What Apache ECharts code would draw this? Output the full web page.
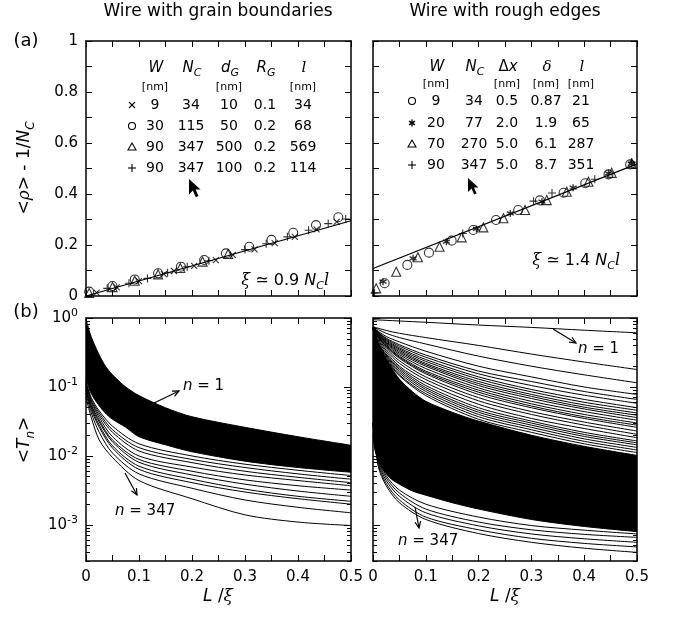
<!DOCTYPE html>
<html lang="en">
<head>
<meta charset="UTF-8">
<title>Wire transmission</title>
<style>html,body{margin:0;padding:0;background:#fff;}</style>
</head>
<body>
<div id="chart" style="width:681px;height:618px;"></div>
<script src="https://cdn.jsdelivr.net/npm/echarts@6/dist/echarts.min.js"></script>
<script>
// ---------- data ----------
// (a) left: wire with grain boundaries, points [L/xi, <rho> - 1/Nc]
var gbCross = [[0.02,0.013],[0.058,0.034],[0.1,0.058],[0.147,0.086],[0.166,0.098],[0.204,0.118],[0.245,0.141],[0.277,0.161],[0.318,0.183],[0.356,0.207],[0.394,0.232],[0.435,0.261],[0.473,0.291]];
var gbCircle = [[0.006,0.017],[0.05,0.039],[0.092,0.065],[0.136,0.089],[0.179,0.115],[0.223,0.141],[0.264,0.167],[0.308,0.193],[0.35,0.22],[0.391,0.248],[0.434,0.278],[0.476,0.309]];
var gbTri = [[0.006,0.012],[0.05,0.035],[0.092,0.06],[0.136,0.085],[0.178,0.11],[0.22,0.135],[0.268,0.165]];
var gbPlus = [[0.04,0.03],[0.081,0.05],[0.116,0.069],[0.154,0.091],[0.191,0.115],[0.232,0.138],[0.3,0.182],[0.34,0.205],[0.38,0.232],[0.42,0.258],[0.457,0.284],[0.49,0.302]];
var gbFit = [[0,0],[0.5,0.295]];

// (a) right: wire with rough edges
var reCircle = [[0.022,0.05],[0.065,0.122],[0.106,0.17],[0.149,0.217],[0.19,0.259],[0.233,0.298],[0.275,0.337],[0.316,0.375],[0.361,0.405],[0.402,0.442],[0.446,0.477],[0.487,0.516]];
var reTri = [[0.006,0.03],[0.044,0.095],[0.085,0.152],[0.126,0.193],[0.168,0.23],[0.209,0.269],[0.247,0.305],[0.288,0.337],[0.329,0.376],[0.367,0.409],[0.408,0.448],[0.452,0.483],[0.49,0.52]];
var reStar = [[0.019,0.056],[0.076,0.148],[0.139,0.213],[0.196,0.263],[0.26,0.324],[0.32,0.37],[0.379,0.425],[0.446,0.481],[0.49,0.518]];
var rePlus = [[0.003,0.012],[0.17,0.245],[0.304,0.372],[0.339,0.404],[0.42,0.458],[0.49,0.525]];
var reFit = [[0,0.108],[0.5,0.518]];

// table contents
var gbRows = [['9','34','10','0.1','34'],['30','115','50','0.2','68'],['90','347','500','0.2','569'],['90','347','100','0.2','114']];
var reRows = [['9','34','0.5','0.87','21'],['20','77','2.0','1.9','65'],['70','270','5.0','6.1','287'],['90','347','5.0','8.7','351']];

// (b) <T_n> versus L/xi
var bandL = [0, 0.003, 0.006, 0.01, 0.02, 0.035, 0.05, 0.075, 0.1, 0.15, 0.2, 0.3, 0.4, 0.5];
var curveL = [0, 0.01, 0.025, 0.05, 0.1, 0.2, 0.3, 0.4, 0.5];

// grain boundaries: dense band (n = 1 at its top) and the separate lowest channels
var gbBandTop = [0.95, 0.80, 0.66, 0.53, 0.35, 0.21, 0.15, 0.10, 0.075, 0.05, 0.037, 0.026, 0.019, 0.0143];
var gbBandBottom = [0.13, 0.11, 0.095, 0.08, 0.06, 0.043, 0.034, 0.026, 0.019, 0.0145, 0.0115, 0.0084, 0.0068, 0.0058];
var gbLow = [
  [0.12, 0.07, 0.045, 0.027, 0.0150, 0.0100, 0.0076, 0.0062, 0.0052],
  [0.115, 0.066, 0.042, 0.024, 0.0132, 0.0089, 0.0068, 0.0055, 0.0046],
  [0.11, 0.063, 0.039, 0.022, 0.0118, 0.0080, 0.0060, 0.0049, 0.0041],
  [0.105, 0.06, 0.036, 0.019, 0.0100, 0.0069, 0.0053, 0.0044, 0.0037],
  [0.10, 0.056, 0.033, 0.017, 0.0089, 0.0060, 0.0045, 0.0037, 0.0032],
  [0.095, 0.053, 0.031, 0.016, 0.0081, 0.0053, 0.0039, 0.0031, 0.0026],
  [0.09, 0.05, 0.028, 0.014, 0.0071, 0.0046, 0.0033, 0.0026, 0.0022],
  [0.088, 0.047, 0.026, 0.013, 0.0064, 0.0041, 0.0030, 0.0024, 0.0020],
  [0.08, 0.042, 0.022, 0.011, 0.0055, 0.0034, 0.0023, 0.0018, 0.0015],
  [0.07, 0.036, 0.017, 0.0095, 0.0044, 0.0024, 0.0014, 0.0011, 0.00098]
];

// rough edges: separate upper channels (first is n = 1), dense band, lowest channels (last is n = 347)
var reUpper = [
  [0.945, 0.937, 0.925, 0.905, 0.867, 0.79, 0.73, 0.665, 0.61],
  [0.75, 0.71, 0.66, 0.6, 0.52, 0.40, 0.30, 0.23, 0.179],
  [0.75, 0.68, 0.6, 0.52, 0.42, 0.28, 0.20, 0.15, 0.115],
  [0.74, 0.64, 0.54, 0.45, 0.33, 0.20, 0.14, 0.10, 0.078],
  [0.74, 0.62, 0.51, 0.41, 0.29, 0.17, 0.12, 0.086, 0.066],
  [0.735, 0.61, 0.495, 0.39, 0.27, 0.155, 0.105, 0.076, 0.058],
  [0.73, 0.60, 0.48, 0.37, 0.25, 0.14, 0.092, 0.066, 0.050],
  [0.73, 0.59, 0.465, 0.355, 0.235, 0.13, 0.085, 0.060, 0.046],
  [0.73, 0.58, 0.45, 0.34, 0.22, 0.12, 0.078, 0.055, 0.042],
  [0.725, 0.57, 0.44, 0.325, 0.21, 0.112, 0.073, 0.051, 0.039],
  [0.72, 0.56, 0.43, 0.31, 0.20, 0.105, 0.068, 0.048, 0.036],
  [0.72, 0.55, 0.415, 0.295, 0.185, 0.097, 0.062, 0.044, 0.033],
  [0.72, 0.54, 0.40, 0.28, 0.17, 0.09, 0.057, 0.040, 0.030],
  [0.715, 0.53, 0.39, 0.27, 0.162, 0.084, 0.053, 0.037, 0.028],
  [0.71, 0.52, 0.38, 0.26, 0.155, 0.078, 0.050, 0.035, 0.026],
  [0.71, 0.50, 0.36, 0.24, 0.14, 0.070, 0.044, 0.031, 0.023],
  [0.70, 0.48, 0.34, 0.22, 0.128, 0.063, 0.040, 0.028, 0.0206],
  [0.70, 0.46, 0.32, 0.20, 0.115, 0.056, 0.035, 0.025, 0.0184],
  [0.70, 0.44, 0.30, 0.19, 0.105, 0.050, 0.032, 0.022, 0.0165],
  [0.70, 0.43, 0.29, 0.18, 0.098, 0.046, 0.030, 0.0205, 0.0155],
  [0.70, 0.42, 0.28, 0.17, 0.092, 0.043, 0.028, 0.0192, 0.0145],
  [0.70, 0.41, 0.27, 0.16, 0.086, 0.040, 0.026, 0.0177, 0.0133],
  [0.70, 0.40, 0.26, 0.15, 0.080, 0.037, 0.024, 0.0163, 0.0122],
  [0.70, 0.39, 0.25, 0.145, 0.075, 0.034, 0.022, 0.0150, 0.0112]
];
var reBandTop = [0.70, 0.60, 0.50, 0.42, 0.29, 0.19, 0.13, 0.085, 0.062, 0.043, 0.032, 0.020, 0.0138, 0.0102];
var reBandBottom = [0.02, 0.013, 0.0105, 0.0085, 0.0062, 0.0046, 0.0039, 0.0031, 0.0027, 0.0021, 0.0017, 0.0012, 0.00095, 0.0008];
var reLow = [
  [0.03, 0.0094, 0.0052, 0.0032, 0.0020, 0.0013, 0.00098, 0.00084, 0.00074],
  [0.03, 0.0088, 0.0048, 0.0029, 0.0017, 0.0011, 0.00085, 0.00073, 0.00066],
  [0.03, 0.0082, 0.0044, 0.0026, 0.0015, 0.00097, 0.00074, 0.00063, 0.00056],
  [0.03, 0.0076, 0.0040, 0.0023, 0.0013, 0.00085, 0.00064, 0.00054, 0.00048],
  [0.03, 0.0070, 0.0037, 0.0021, 0.0012, 0.00075, 0.00056, 0.00046, 0.00040]
];

// axis ticks
var decades = [0.001, 0.01, 0.1, 1];
var logMinor = [0.0003,0.0004,0.0005,0.0006,0.0007,0.0008,0.0009,
  0.002,0.003,0.004,0.005,0.006,0.007,0.008,0.009,
  0.02,0.03,0.04,0.05,0.06,0.07,0.08,0.09,
  0.2,0.3,0.4,0.5,0.6,0.7,0.8,0.9];

// ---------- chart ----------
var FONT = 'DejaVu Sans', SERIF = 'DejaVu Serif';
var chart = echarts.init(document.getElementById('chart'));

function rich(size) {
  var small = Math.round(size * 0.7);
  return {
    n: {fontSize: size, fontFamily: FONT, color: '#000', lineHeight: size + 6},
    i: {fontSize: size, fontFamily: FONT, fontStyle: 'italic', color: '#000', lineHeight: size + 6},
    g: {fontSize: size, fontFamily: SERIF, fontStyle: 'italic', color: '#000', lineHeight: size + 6},
    s: {fontSize: small, fontFamily: FONT, fontStyle: 'italic', color: '#000', verticalAlign: 'bottom', lineHeight: small},
    p: {fontSize: small, fontFamily: FONT, color: '#000', verticalAlign: 'top', lineHeight: small}
  };
}

function pairs(xs, ys) {
  return xs.map(function (x, i) { return [x, ys[i]]; });
}

var rects = [[86,41,265,255],[373,41,264,255],[86,318,265,243],[373,318,264,243],[86,318,265,243],[373,318,264,243]];
var grids = rects.map(function (r) { return {left: r[0], top: r[1], width: r[2], height: r[3], containLabel: false}; });

function fmtL(v) {
  return Math.round(v * 100) % 10 === 0 ? String(Math.round(v * 10) / 10) : '';
}
function xAx(g, pos, showLabel) {
  return {
    type: 'value', gridIndex: g, position: pos, min: 0, max: 0.5, interval: 0.05, z: 5,
    axisLine: {show: true, onZero: false, lineStyle: {color: '#000', width: 1.5}},
    axisTick: {show: true, inside: true, length: 6, lineStyle: {color: '#000', width: 1}},
    axisLabel: {show: showLabel, color: '#000', fontSize: 15, fontFamily: FONT, margin: 9, formatter: fmtL},
    splitLine: {show: false}
  };
}
function yLin(g, pos, showLabel) {
  return {
    type: 'value', gridIndex: g, position: pos, min: 0, max: 1, interval: 0.1, z: 5,
    axisLine: {show: true, onZero: false, lineStyle: {color: '#000', width: 1.5}},
    axisTick: {show: true, inside: true, length: 6, lineStyle: {color: '#000', width: 1}},
    axisLabel: {show: showLabel, color: '#000', fontSize: 15, fontFamily: FONT, margin: 8,
      formatter: function (v) { var k = Math.round(v * 10); return k % 2 === 0 ? String(k / 10) : ''; }},
    splitLine: {show: false}
  };
}
function yLog(g, pos, showLabel, minor) {
  return {
    type: 'log', logBase: 10, gridIndex: g, position: pos, min: 0.0003, max: 1, z: 5,
    axisLine: {show: !minor, onZero: false, lineStyle: {color: '#000', width: 1.5}},
    axisTick: {show: true, inside: true, length: minor ? 4 : 7, customValues: minor ? logMinor : decades,
      lineStyle: {color: '#000', width: 1}},
    axisLabel: {show: showLabel, customValues: decades, color: '#000', margin: 8,
      formatter: function (v) { return '{b|10}{p|' + Math.round(Math.log10(v)) + '}'; },
      rich: {b: {fontSize: 15, fontFamily: FONT, color: '#000', lineHeight: 20},
             p: {fontSize: 11, fontFamily: FONT, color: '#000', verticalAlign: 'top', lineHeight: 11}}},
    minorTick: {show: false},
    splitLine: {show: false}
  };
}

var xAxes = [
  xAx(0, 'bottom', false), xAx(0, 'top', false),
  xAx(1, 'bottom', false), xAx(1, 'top', false),
  xAx(2, 'bottom', true), xAx(2, 'top', false),
  xAx(3, 'bottom', true), xAx(3, 'top', false),
  {type: 'value', gridIndex: 4, show: false, min: 0, max: 0.5},
  {type: 'value', gridIndex: 5, show: false, min: 0, max: 0.5}
];
var yAxes = [
  yLin(0, 'left', true), yLin(0, 'right', false),
  yLin(1, 'left', false), yLin(1, 'right', false),
  yLog(2, 'left', true, false), yLog(2, 'right', false, false),
  yLog(3, 'left', false, false), yLog(3, 'right', false, false),
  yLog(4, 'left', false, true), yLog(4, 'right', false, true),
  yLog(5, 'left', false, true), yLog(5, 'right', false, true)
];

var SYM_CROSS = 'path://M0,0L10,10M10,0L0,10';
var SYM_PLUS = 'path://M5,0L5,10M0,5L10,5';
var SYM_STAR = 'path://M5,0L5,10M0.67,2.5L9.33,7.5M0.67,7.5L9.33,2.5';

function pts(data, xi, yi, symbol, size, bw) {
  return {
    type: 'scatter', xAxisIndex: xi, yAxisIndex: yi, data: data, symbol: symbol, symbolSize: size, z: 3,
    itemStyle: {color: 'transparent', borderColor: '#000', borderWidth: bw || 1}
  };
}
function fit(data, xi, yi) {
  return {type: 'line', xAxisIndex: xi, yAxisIndex: yi, data: data, symbol: 'none', z: 2,
    lineStyle: {color: '#000', width: 1.2}};
}
function curve(xs, ys, xi, yi) {
  return {type: 'line', xAxisIndex: xi, yAxisIndex: yi, data: pairs(xs, ys), symbol: 'none', z: 2,
    smooth: 0.3, lineStyle: {color: '#000', width: 1}};
}
function band(xs, ys, xi, yi, fill) {
  return {type: 'line', xAxisIndex: xi, yAxisIndex: yi, data: pairs(xs, ys), symbol: 'none', z: 1,
    smooth: 0.3, lineStyle: {color: '#000', width: 1},
    areaStyle: {color: fill, opacity: 1, origin: 'start'}};
}

var series = [
  fit(gbFit, 0, 0),
  pts(gbCross, 0, 0, SYM_CROSS, 6, 1.1),
  pts(gbCircle, 0, 0, 'circle', 9, 1.1),
  pts(gbTri, 0, 0, 'triangle', 9, 1.1),
  pts(gbPlus, 0, 0, SYM_PLUS, 8, 1.1),
  fit(reFit, 2, 2),
  pts(reCircle, 2, 2, 'circle', 9, 1.1),
  pts(reTri, 2, 2, 'triangle', 9, 1.1),
  pts(reStar, 2, 2, SYM_STAR, 7, 1.4),
  pts(rePlus, 2, 2, SYM_PLUS, 8, 1.1),
  band(bandL, gbBandTop, 4, 4, '#000'),
  band(bandL, gbBandBottom, 4, 4, '#fff'),
  band(bandL, reBandTop, 6, 6, '#000'),
  band(bandL, reBandBottom, 6, 6, '#fff')
];
gbLow.forEach(function (ys) { series.push(curve(curveL, ys, 4, 4)); });
reUpper.forEach(function (ys) { series.push(curve(curveL, ys, 6, 6)); });
reLow.forEach(function (ys) { series.push(curve(curveL, ys, 6, 6)); });

// ---------- texts, tables and pointers ----------
function label(x, y, text, size, align, extra) {
  return Object.assign({
    type: 'text', x: x, y: y, z: 100, silent: true,
    style: {text: text, fontSize: size, fontFamily: FONT, fill: '#000',
      align: align || 'center', verticalAlign: 'middle', rich: rich(size)}
  }, extra || {});
}
function seg(x1, y1, x2, y2, w) {
  return {type: 'line', z: 100, silent: true, shape: {x1: x1, y1: y1, x2: x2, y2: y2}, style: {stroke: '#000', lineWidth: w || 1.1}};
}
function arrow(x1, y1, x2, y2) {
  var a = Math.atan2(y2 - y1, x2 - x1), h = 7, w = 0.42;
  return [
    seg(x1, y1, x2, y2, 1.2),
    {type: 'polyline', z: 100, silent: true, shape: {points: [[x2 - h * Math.cos(a - w), y2 - h * Math.sin(a - w)], [x2, y2],
      [x2 - h * Math.cos(a + w), y2 - h * Math.sin(a + w)]]}, style: {stroke: '#000', fill: null, lineWidth: 1.2}}
  ];
}
function cursor(x, y, s) {
  var p = [[0,0],[0,14],[3.5,10.5],[6.2,16.5],[8.6,15.4],[6,9.6],[10.5,9.6]];
  return {type: 'polygon', z: 100, silent: true, shape: {points: p.map(function (q) { return [x + q[0] * s, y + q[1] * s]; })},
    style: {fill: '#000'}};
}
function mark(kind, x, y) {
  if (kind === 'circle') return [{type: 'circle', z: 100, silent: true, shape: {cx: x, cy: y, r: 3.5}, style: {stroke: '#000', fill: null, lineWidth: 1.1}}];
  if (kind === 'tri') return [{type: 'polygon', z: 100, silent: true, shape: {points: [[x, y - 4], [x + 4, y + 3], [x - 4, y + 3]]}, style: {stroke: '#000', fill: null, lineWidth: 1.1}}];
  if (kind === 'cross') return [seg(x - 3, y - 3, x + 3, y + 3), seg(x + 3, y - 3, x - 3, y + 3)];
  if (kind === 'plus') return [seg(x - 4, y, x + 4, y), seg(x, y - 4, x, y + 4)];
  return [seg(x, y - 3.5, x, y + 3.5, 1.4), seg(x - 3, y - 1.8, x + 3, y + 1.8, 1.4), seg(x - 3, y + 1.8, x + 3, y - 1.8, 1.4)];
}

var g = [];
g.push(label(218, 12, 'Wire with grain boundaries', 17));
g.push(label(505, 12, 'Wire with rough edges', 17));
g.push(label(26, 41, '(a)', 18));
g.push(label(26, 312, '(b)', 18));
g.push(label(25, 168, '<{g|ρ}> - 1/{i|N}{s|C}', 17, 'center', {rotation: Math.PI / 2}));
g.push(label(25, 440, '<{i|T}{s|n}>', 17, 'center', {rotation: Math.PI / 2}));
g.push(label(218, 597, '{i|L} /{g|ξ}', 17));
g.push(label(505, 597, '{i|L} /{g|ξ}', 17));
g.push(label(329, 281, '{g|ξ} ≃ 0.9 {i|N}{s|C}{g|l}', 16, 'right'));
g.push(label(620, 261, '{g|ξ} ≃ 1.4 {i|N}{s|C}{g|l}', 16, 'right'));

// left table
var gbCols = [155, 191, 229, 265, 303];
var gbHead = ['{i|W}', '{i|N}{s|C}', '{i|d}{s|G}', '{i|R}{s|G}', '{g|l}'];
var gbRowY = [105, 126, 147, 168];
gbHead.forEach(function (h, k) { g.push(label(gbCols[k] + 1, 68, h, 15)); });
[0, 2, 4].forEach(function (k) { g.push(label(gbCols[k], 87, '[nm]', 11)); });
gbRows.forEach(function (row, r) {
  row.forEach(function (v, k) { g.push(label(gbCols[k], gbRowY[r], v, 14)); });
});
['cross', 'circle', 'tri', 'plus'].forEach(function (m, r) { g = g.concat(mark(m, 132, gbRowY[r])); });

// right table
var reCols = [436, 474, 507, 546, 581];
var reHead = ['{i|W}', '{i|N}{s|C}', 'Δ{i|x}', '{g|δ}', '{g|l}'];
var reRowY = [101, 123, 144, 165];
reHead.forEach(function (h, k) { g.push(label(reCols[k] + 1, 67, h, 15)); });
[0, 2, 3, 4].forEach(function (k) { g.push(label(reCols[k], 84, '[nm]', 11)); });
reRows.forEach(function (row, r) {
  row.forEach(function (v, k) { g.push(label(reCols[k], reRowY[r], v, 14)); });
});
['circle', 'star', 'tri', 'plus'].forEach(function (m, r) { g = g.concat(mark(m, 412, reRowY[r])); });

g.push(cursor(189, 179, 1.1));
g.push(cursor(468, 178, 1.0));

// n labels with arrows in (b)
g.push(label(183, 386, '{i|n} = 1', 15, 'left'));
g.push(label(115, 511, '{i|n} = 347', 15, 'left'));
g.push(label(578, 349, '{i|n} = 1', 15, 'left'));
g.push(label(398, 541, '{i|n} = 347', 15, 'left'));
g = g.concat(arrow(152, 404, 179, 391));
g = g.concat(arrow(125, 473, 137, 495));
g = g.concat(arrow(553, 329, 576, 343));
g = g.concat(arrow(415, 507, 419, 528));

chart.setOption({
  animation: false,
  backgroundColor: '#fff',
  grid: grids,
  xAxis: xAxes,
  yAxis: yAxes,
  series: series,
  graphic: {elements: g}
});
</script>
</body>
</html>
